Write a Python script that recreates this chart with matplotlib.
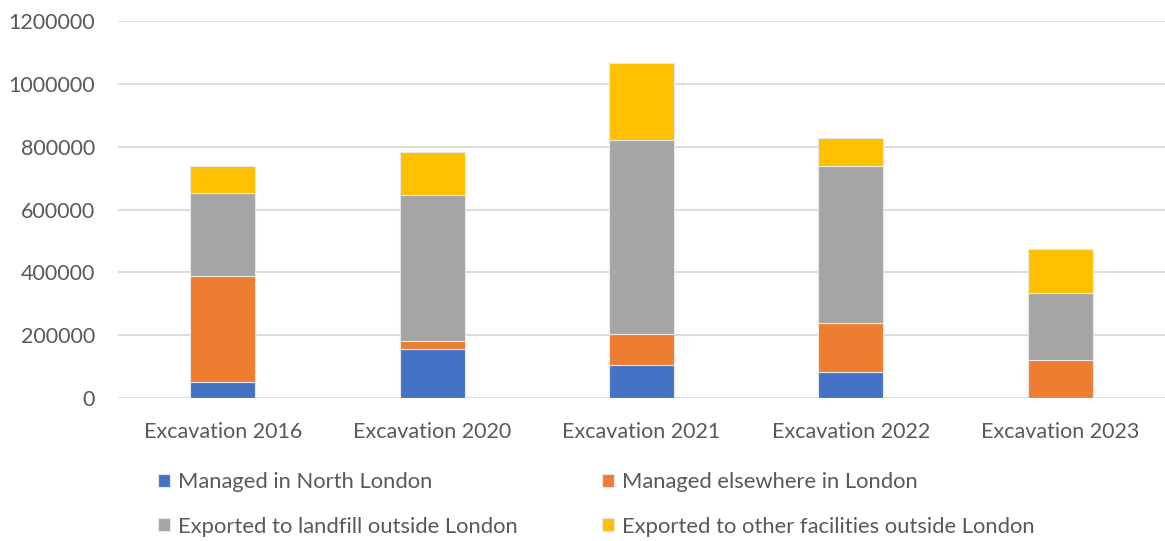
import matplotlib.pyplot as plt
import numpy as np

plt.rcParams["font.family"] = ["Lato", "DejaVu Sans"]

categories = ["Excavation 2016", "Excavation 2020", "Excavation 2021", "Excavation 2022", "Excavation 2023"]
series_names = ["Managed in North London", "Managed elsewhere in London",
                "Exported to landfill outside London", "Exported to other facilities outside London"]
north_london = [52000, 156000, 105000, 84000, 0]
elsewhere_london = [336000, 25000, 99000, 156000, 122000]
landfill_outside = [265000, 464000, 618000, 499000, 212000]
other_outside = [85000, 138000, 243000, 88000, 140000]
colors = ["#4472C4", "#ED7D31", "#A5A5A5", "#FFC000"]
yticks = [0, 200000, 400000, 600000, 800000, 1000000, 1200000]

fig = plt.figure(figsize=(11.65, 5.41), dpi=100)
ax = fig.add_axes([0.1013, 0.2643, 0.8987, 0.6969])

x = np.arange(len(categories))
bottom = np.zeros(len(categories))
handles = []
for vals, name, c in zip([north_london, elsewhere_london, landfill_outside, other_outside], series_names, colors):
    b = ax.bar(x, vals, 0.31, bottom=bottom, color=c, edgecolor="#e8e8e8", linewidth=0.8, label=name, zorder=3)
    handles.append(b)
    bottom += np.array(vals)

ax.set_xlim(-0.5, 4.5)
ax.set_ylim(0, 1200000)
ax.set_yticks(yticks)
ax.set_yticklabels([str(v) for v in yticks])
ax.set_xticks(x)
ax.set_xticklabels(categories)
ax.grid(axis="y", color="#d9d9d9", linewidth=1.3, zorder=0)
for s in ax.spines.values():
    s.set_visible(False)
ax.tick_params(length=0, labelsize=15.5, colors="#595959")
ax.tick_params(axis="y", pad=16.5)
ax.tick_params(axis="x", pad=17)

# legend rows go blue/orange then gray/yellow, so reorder for column filling
order = [0, 2, 1, 3]
fig.legend([handles[i] for i in order], [series_names[i] for i in order], ncol=2,
           loc="upper left", bbox_to_anchor=(0.128, 0.143), frameon=False,
           fontsize=15.8, labelcolor="#595959", handlelength=0.55, handleheight=0.55,
           handletextpad=0.35, columnspacing=3.85, labelspacing=1.1, borderaxespad=0)

fig.savefig("out.png", dpi=100)
